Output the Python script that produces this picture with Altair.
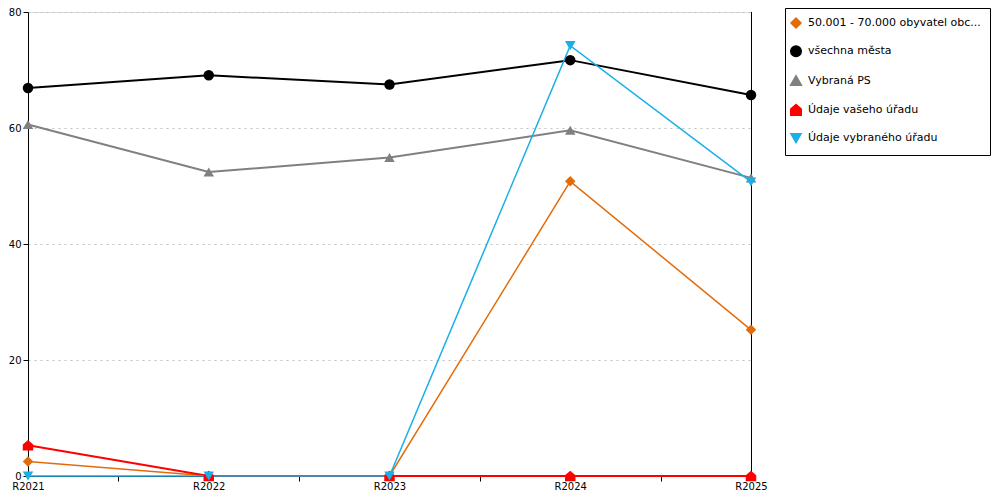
import json
import altair as alt
import pandas as pd

categories = ["R2021", "R2022", "R2023", "R2024", "R2025"]
series = [
    "50.001 - 70.000 obyvatel obc...",
    "všechna města",
    "Vybraná PS",
    "Údaje vašeho úřadu",
    "Údaje vybraného úřadu",
]
values = [
    [2.5, 0.0, 0.0, 50.8, 25.2],
    [66.9, 69.1, 67.5, 71.7, 65.7],
    [60.6, 52.4, 54.9, 59.6, 51.4],
    [5.3, 0.0, 0.0, 0.0, 0.0],
    [0.0, 0.0, 0.0, 74.2, 50.7],
]
colors = ["#E36C0A", "#000000", "#808080", "#FF0000", "#1AAFE6"]
house = "M-1,1L-1,-0.15L0,-1L1,-0.15L1,1Z"
shapes = ["diamond", "circle", "triangle-up", house, "triangle-down"]
widths = [1.5, 2, 2, 2, 1.5]
y_ticks = [0, 20, 40, 60, 80]

rows = []
for si, name in enumerate(series):
    for ci, cat in enumerate(categories):
        rows.append({"series": name, "order": si, "idx": ci, "cat": cat, "value": values[si][ci]})
df = pd.DataFrame(rows)

n = len(categories)
x_tick_vals = [i * 0.5 for i in range(2 * (n - 1) + 1)]
label_expr = f"datum.value % 1 == 0 ? {json.dumps(categories)}[datum.value] : ''"

FONT = "DejaVu Sans"

x_enc = alt.X(
    "idx:Q",
    scale=alt.Scale(domain=[0, n - 1], nice=False, zero=False),
    axis=alt.Axis(
        title=None,
        values=x_tick_vals,
        labelExpr=label_expr,
        grid=False,
        domainColor="#000000",
        tickColor="#000000",
        tickSize=5,
        tickOpacity=alt.ExprRef("datum.value % 1 == 0 ? 0 : 1"),
        labelFont=FONT,
        labelFontSize=10,
        labelColor="#000000",
        labelPadding=0,
        labelOverlap=False,
        labelFlush=False,
    ),
)
y_enc = alt.Y(
    "value:Q",
    scale=alt.Scale(domain=[0, 80], nice=False),
    axis=alt.Axis(
        title=None,
        values=y_ticks,
        grid=True,
        gridColor="#C0C0C0",
        gridDash=[2, 4],
        gridWidth=1,
        domainColor="#000000",
        tickColor="#000000",
        tickSize=5,
        labelFont=FONT,
        labelFontSize=10,
        labelColor="#000000",
        labelPadding=2,
    ),
)

color_enc = alt.Color(
    "series:N",
    scale=alt.Scale(domain=series, range=colors),
    sort=series,
    legend=alt.Legend(
        title=None,
        orient="none",
        legendX=757,
        legendY=-4,
        padding=9,
        rowPadding=11.3,
        strokeColor="#000000",
        fillColor="#FFFFFF",
        labelFont=FONT,
        labelFontSize=11,
        labelColor="#000000",
        labelLimit=300,
        symbolSize=100,
        symbolStrokeWidth=0,
        labelOffset=6,
        symbolOffset=-4,
    ),
)
shape_enc = alt.Shape("series:N", scale=alt.Scale(domain=series, range=shapes), sort=series)

base = alt.Chart(df)

lines = base.mark_line().encode(
    x=x_enc,
    y=y_enc,
    color=color_enc,
    strokeWidth=alt.StrokeWidth(
        "series:N",
        scale=alt.Scale(type="ordinal", domain=series, range=widths),
        legend=None,
    ),
    detail="series:N",
    order="idx:Q",
)

points = base.mark_point(filled=True, size=110, opacity=1).encode(
    x=x_enc,
    y=y_enc,
    color=color_enc,
    shape=shape_enc,
    order="order:Q",
)

right_rule = alt.Chart(pd.DataFrame({"a": [0]})).mark_rule(
    color="#000000", strokeWidth=1, xOffset=0.5
).encode(
    x=alt.datum(n - 1),
    y=alt.datum(0),
    y2=alt.datum(80),
)

chart = (
    alt.layer(right_rule, lines, points)
    .properties(
        width=723,
        height=464,
        padding={"left": 20, "top": 4, "right": 241, "bottom": 16},
        autosize=alt.AutoSizeParams(type="none"),
    )
    .configure_view(stroke=None)
    .configure(background="#FFFFFF")
)

chart.save("out.html", embed_options={"renderer": "svg", "actions": False})
